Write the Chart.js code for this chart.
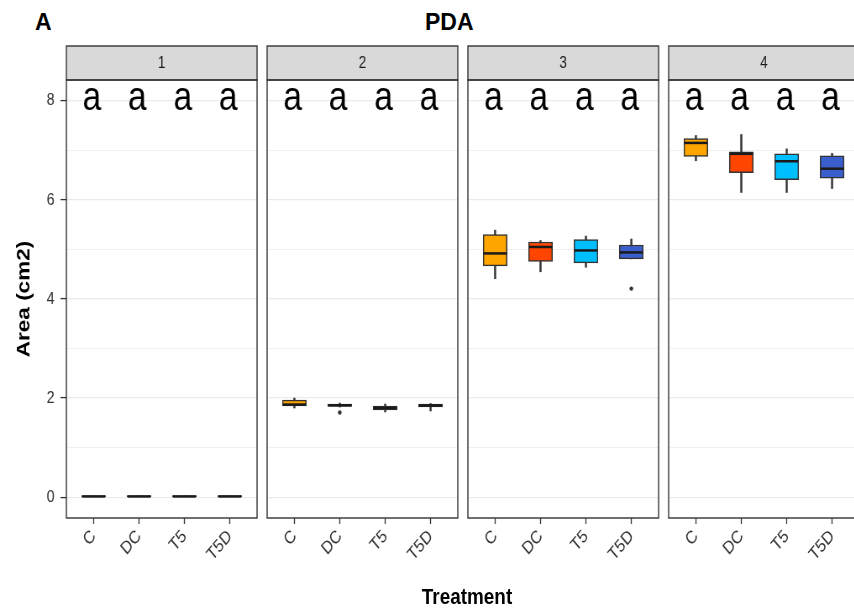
<!DOCTYPE html>
<html><head><meta charset="utf-8">
<script src="https://cdn.jsdelivr.net/npm/chart.js@4.4.1/dist/chart.umd.min.js"></script>
<style>
html,body{margin:0;padding:0;background:#fff;overflow:hidden;width:854px;height:610px;}
#wrap{position:absolute;left:0;top:0;width:1017px;height:610px;transform:scaleX(0.84);transform-origin:0 0;}
#wrap canvas{position:absolute;top:0;}
.t{position:absolute;font-family:"Liberation Sans",Arial,sans-serif;font-weight:bold;color:#000;white-space:nowrap;line-height:26px;}
</style></head><body>
<div class="t" style="left:35px;top:9px;font-size:23px;">A</div>
<div class="t" style="left:425px;top:9px;font-size:23px;">PDA</div>
<div id="wrap">
  <canvas id="c0" width="310" height="610" style="left:0px"></canvas>
  <canvas id="c1" width="235" height="610" style="left:314px"></canvas>
  <canvas id="c2" width="235" height="610" style="left:553px"></canvas>
  <canvas id="c3" width="235" height="610" style="left:792px"></canvas>
  <div class="t" style="left:456px;width:200px;text-align:center;top:584px;font-size:22.5px;">Treatment</div>
</div>
<script>
// ---------- data ----------
const panels = ['1', '2', '3', '4'];
const treatments = ['C', 'DC', 'T5', 'T5D'];
const letters = [['a','a','a','a'], ['a','a','a','a'], ['a','a','a','a'], ['a','a','a','a']];
const letterLevel = 8;
const whiskerLow  = [[0, 0, 0, 0], [1.80, 1.82, 1.72, 1.74], [4.41, 4.55, 4.64, 4.81], [6.79, 6.15, 6.15, 6.23]];
const q1          = [[0, 0, 0, 0], [1.84, 1.83, 1.76, 1.82], [4.67, 4.76, 4.73, 4.81], [6.88, 6.55, 6.41, 6.44]];
const medianVals  = [[0.015, 0.015, 0.015, 0.015], [1.87, 1.855, 1.80, 1.85], [4.92, 5.05, 4.98, 4.94], [7.15, 6.93, 6.78, 6.63]];
const q3          = [[0.03, 0.03, 0.03, 0.03], [1.96, 1.88, 1.84, 1.88], [5.30, 5.15, 5.20, 5.09], [7.24, 6.97, 6.93, 6.89]];
const whiskerHigh = [[0.03, 0.03, 0.03, 0.03], [2.00, 1.90, 1.88, 1.89], [5.39, 5.18, 5.27, 5.21], [7.30, 7.32, 7.03, 6.94]];
const outliers    = [[], [{t: 'DC', v: 1.71}], [{t: 'T5D', v: 4.21}], []];
const yTickValues = [0, 1, 2, 3, 4, 5, 6, 7, 8];

// ---------- styles ----------
const fills = ['#FFA500', '#FF4500', '#00BFFF', '#3A5FCD'];
const BOX_W = 28.5;
const FONT = '"Liberation Sans", Arial, sans-serif';

function facetPlugin(p) {
  return {
    id: 'facet' + p,
    afterDatasetsDraw(chart) {
      const ctx = chart.ctx, xs = chart.scales.x, ys = chart.scales.y;
      ctx.save();
      ctx.strokeStyle = '#1A1A1A';
      ctx.lineWidth = 2.5;
      medianVals[p].forEach((m, j) => {
        const x = xs.getPixelForValue(j + 1), y = ys.getPixelForValue(m);
        ctx.beginPath();
        ctx.moveTo(x - BOX_W / 2 + 0.6, y);
        ctx.lineTo(x + BOX_W / 2 - 0.6, y);
        ctx.stroke();
      });
      ctx.restore();
    },
    afterDraw(chart) {
      const ctx = chart.ctx, a = chart.chartArea, xs = chart.scales.x, ys = chart.scales.y;
      ctx.save();
      // letters
      ctx.fillStyle = '#000';
      ctx.font = '40px ' + FONT;
      ctx.textAlign = 'center';
      ctx.textBaseline = 'alphabetic';
      letters[p].forEach((l, j) => {
        ctx.fillText(l, xs.getPixelForValue(j + 1) - 2, ys.getPixelForValue(letterLevel) + 9);
      });
      // strip
      const sh = 34;
      ctx.fillStyle = '#D9D9D9';
      ctx.fillRect(a.left, a.top - sh, a.right - a.left, sh);
      ctx.strokeStyle = '#333333';
      ctx.lineWidth = 1.4;
      ctx.strokeRect(a.left, a.top - sh, a.right - a.left, sh);
      ctx.fillStyle = '#1A1A1A';
      ctx.font = '16px ' + FONT;
      ctx.textBaseline = 'middle';
      ctx.fillText(panels[p], (a.left + a.right) / 2, a.top - sh / 2 + 1);
      // panel border
      ctx.strokeRect(a.left, a.top, a.right - a.left, a.bottom - a.top);
      ctx.restore();
    }
  };
}

function makeChart(p) {
  const first = p === 0;
  const data = {
    datasets: [
      {
        type: 'bar', label: 'whisker',
        data: treatments.map((t, j) => ({x: j + 1, y: [whiskerLow[p][j], whiskerHigh[p][j]]})),
        backgroundColor: '#333333', borderWidth: 0, barThickness: 1.8, grouped: false, order: 3
      },
      {
        type: 'bar', label: 'box',
        data: treatments.map((t, j) => ({x: j + 1, y: [q1[p][j], q3[p][j]]})),
        backgroundColor: fills, borderColor: '#333333', borderWidth: 1.5, borderSkipped: false,
        barThickness: BOX_W, grouped: false, order: 2
      },
      {
        type: 'scatter', label: 'outlier',
        data: outliers[p].map(o => ({x: treatments.indexOf(o.t) + 1, y: o.v})),
        backgroundColor: '#333333', borderWidth: 0, pointRadius: 2.2, order: 1
      }
    ]
  };
  return new Chart(document.getElementById('c' + p), {
    type: 'bar',
    data,
    plugins: [facetPlugin(p)],
    options: {
      responsive: false, animation: false, devicePixelRatio: 1,
      layout: {padding: {left: first ? 0 : 4, right: 4, top: 80, bottom: 0}},
      plugins: {legend: {display: false}, tooltip: {enabled: false}},
      scales: {
        x: {
          type: 'linear', min: 0.4, max: 4.6, offset: false, bounds: 'data',
          afterBuildTicks: s => { s.ticks = treatments.map((t, j) => ({value: j + 1})); },
          afterFit: s => { s.height = 92; },
          grid: {drawOnChartArea: false, drawTicks: true, tickLength: 6, tickColor: '#333333', tickWidth: 1.3, offset: false},
          border: {display: false},
          ticks: {
            autoSkip: false, maxRotation: 45, minRotation: 45, padding: 2,
            font: {family: FONT, size: 18}, color: '#333333',
            callback: v => treatments[v - 1] || ''
          }
        },
        y: {
          type: 'linear', min: -0.42, max: 8.42,
          afterBuildTicks: s => { s.ticks = yTickValues.map(v => ({value: v})); },
          afterFit: s => { s.width = first ? 79 : 0; },
          grid: {
            color: '#EBEBEB',
            lineWidth: c => (c.tick && c.tick.value % 2 === 0) ? 1.2 : 0.8,
            drawTicks: first, tickLength: 7,
            tickColor: c => (c.tick && c.tick.value % 2 === 0) ? '#333333' : 'rgba(0,0,0,0)',
            tickWidth: 1.3
          },
          border: {display: false},
          ticks: {
            display: first, padding: 7,
            font: {family: FONT, size: 17}, color: '#333333',
            callback: v => (v % 2 === 0 ? String(v) : '')
          },
          title: {
            display: first, text: 'Area (cm2)', color: '#000',
            font: {family: FONT, size: 22.5, weight: 'bold'},
            padding: {top: 15, bottom: 0}
          }
        }
      }
    }
  });
}

panels.forEach((_, p) => makeChart(p));
</script>
</body></html>
